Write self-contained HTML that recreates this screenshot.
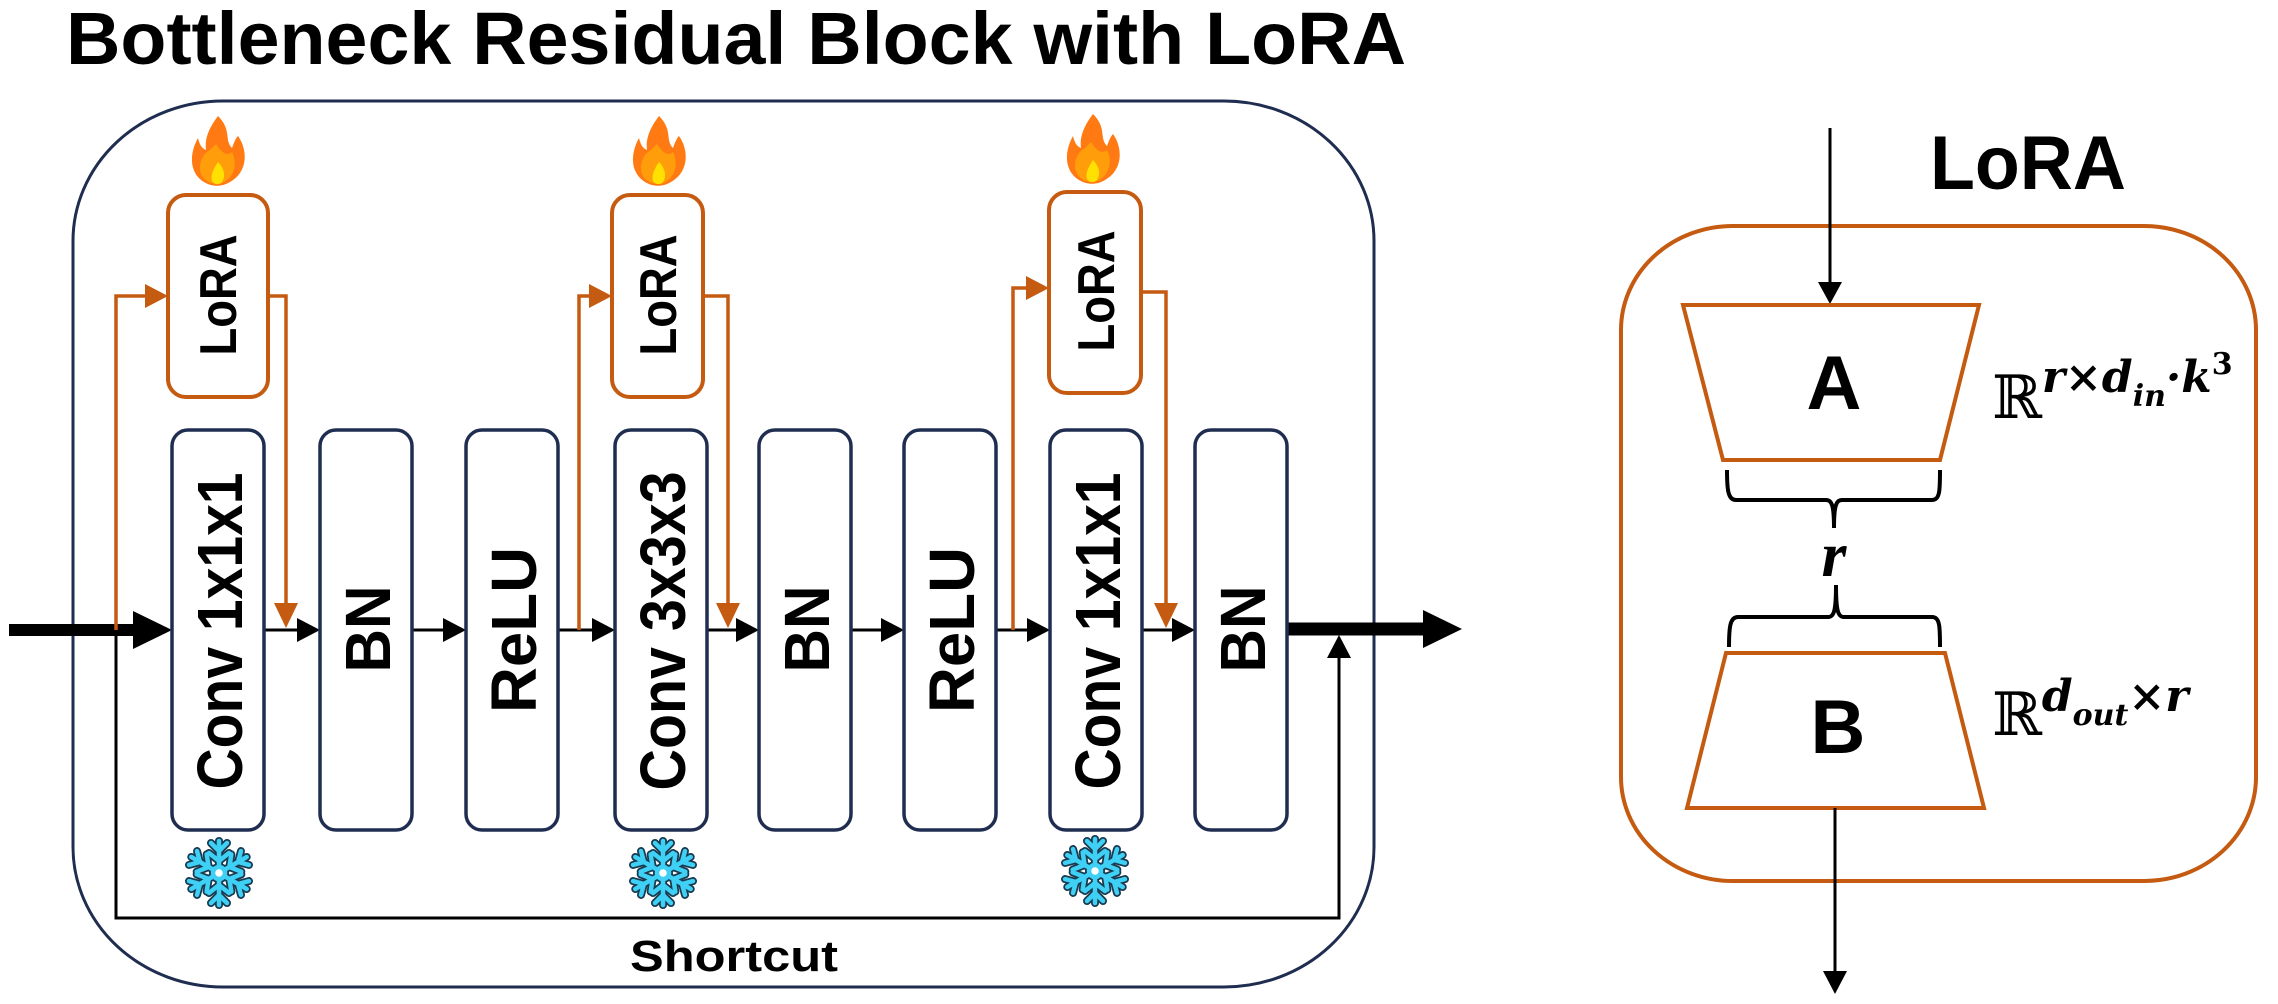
<!DOCTYPE html>
<html><head><meta charset="utf-8"><style>
html,body{margin:0;padding:0;background:#fff;}
svg{display:block;}
</style></head><body>
<svg width="2278" height="1004" viewBox="0 0 2278 1004" xmlns="http://www.w3.org/2000/svg">
<defs>
<g id="flame">
  <path d="M0,-36 C14,-22 6,-12 14,-4 C16,-10 18,-14 20,-16 C30,-2 30,20 12,30 C4,35 -6,35 -14,30 C-30,20 -28,0 -20,-14 C-18,-6 -16,-4 -12,-2 C-14,-16 -6,-28 0,-36 Z" fill="#ff7a12"/>
  <path d="M-2,-8 C4,2 10,4 14,0 C20,12 16,26 4,31 C-6,34 -18,28 -18,16 C-18,6 -12,0 -8,-2 C-6,-4 -4,-6 -2,-8 Z" fill="#ff9d0a"/>
  <path d="M0,10 C6,16 8,24 4,30 C2,33 -4,33 -6,29 C-8,23 -4,16 0,10 Z" fill="#ffe000"/>
</g>
<g id="snowarm">
  <line x1="0" y1="-6" x2="0" y2="-32"/>
  <polyline points="-8,-30 0,-22 8,-30" fill="none"/>
  <polyline points="-10,-20 0,-12 10,-20" fill="none" />
</g>
<g id="snow">
  <g stroke="#1a3a50" stroke-width="8" stroke-linecap="round" stroke-linejoin="round" fill="none">
    <use href="#snowarm"/><use href="#snowarm" transform="rotate(60)"/><use href="#snowarm" transform="rotate(120)"/>
    <use href="#snowarm" transform="rotate(180)"/><use href="#snowarm" transform="rotate(240)"/><use href="#snowarm" transform="rotate(300)"/>
    <circle r="6"/>
  </g>
  <g stroke="#3fd0f5" stroke-width="4.5" stroke-linecap="round" stroke-linejoin="round" fill="none">
    <use href="#snowarm"/><use href="#snowarm" transform="rotate(60)"/><use href="#snowarm" transform="rotate(120)"/>
    <use href="#snowarm" transform="rotate(180)"/><use href="#snowarm" transform="rotate(240)"/><use href="#snowarm" transform="rotate(300)"/>
    <circle r="6" fill="#fff"/>
  </g>
</g>
</defs>

<text x="66" y="64" font-family="Liberation Sans, sans-serif" font-weight="bold" font-size="74" textLength="1340" lengthAdjust="spacingAndGlyphs">Bottleneck Residual Block with LoRA</text>

<rect x="73" y="101" width="1301" height="886" rx="150" ry="140" fill="none" stroke="#1f2d50" stroke-width="3"/>

<polyline points="116,630 116,918 1339,918 1339,656" fill="none" stroke="#000" stroke-width="3"/>
<polygon points="1339,635 1327,658 1351,658" fill="#000"/>
<text x="734" y="971" text-anchor="middle" font-family="Liberation Sans, sans-serif" font-weight="bold" font-size="44" textLength="208" lengthAdjust="spacingAndGlyphs">Shortcut</text>

<line x1="9" y1="630" x2="140" y2="630" stroke="#000" stroke-width="12"/>
<polygon points="133,611 172,630 133,649" fill="#000"/>
<line x1="1287" y1="629" x2="1430" y2="629" stroke="#000" stroke-width="13"/>
<polygon points="1423,610 1462,629 1423,648" fill="#000"/>

<g stroke="#000" stroke-width="3">
  <line x1="264" y1="630" x2="300" y2="630"/>
  <line x1="412" y1="630" x2="446" y2="630"/>
  <line x1="558" y1="630" x2="595" y2="630"/>
  <line x1="707" y1="630" x2="739" y2="630"/>
  <line x1="851" y1="630" x2="884" y2="630"/>
  <line x1="996" y1="630" x2="1030" y2="630"/>
  <line x1="1142" y1="630" x2="1175" y2="630"/>
</g>
<g fill="#000">
  <polygon points="297,618 320,630 297,642"/>
  <polygon points="443,618 466,630 443,642"/>
  <polygon points="592,618 615,630 592,642"/>
  <polygon points="736,618 759,630 736,642"/>
  <polygon points="881,618 904,630 881,642"/>
  <polygon points="1027,618 1050,630 1027,642"/>
  <polygon points="1172,618 1195,630 1172,642"/>
</g>

<g fill="#fff" stroke="#1f2d50" stroke-width="3.5">
  <rect x="172" y="430" width="92" height="400" rx="16"/>
  <rect x="320" y="430" width="92" height="400" rx="16"/>
  <rect x="466" y="430" width="92" height="400" rx="16"/>
  <rect x="615" y="430" width="92" height="400" rx="16"/>
  <rect x="759" y="430" width="92" height="400" rx="16"/>
  <rect x="904" y="430" width="92" height="400" rx="16"/>
  <rect x="1050" y="430" width="92" height="400" rx="16"/>
  <rect x="1195" y="430" width="92" height="400" rx="16"/>
</g>
<g font-family="Liberation Sans, sans-serif" font-weight="bold" font-size="64" text-anchor="middle">
  <text transform="translate(242,631) rotate(-90)" textLength="317" lengthAdjust="spacingAndGlyphs">Conv 1x1x1</text>
  <text transform="translate(390,629) rotate(-90)" textLength="87" lengthAdjust="spacingAndGlyphs">BN</text>
  <text transform="translate(536,630) rotate(-90)" textLength="166" lengthAdjust="spacingAndGlyphs">ReLU</text>
  <text transform="translate(685,631) rotate(-90)" textLength="319" lengthAdjust="spacingAndGlyphs">Conv 3x3x3</text>
  <text transform="translate(829,629) rotate(-90)" textLength="87" lengthAdjust="spacingAndGlyphs">BN</text>
  <text transform="translate(974,630) rotate(-90)" textLength="166" lengthAdjust="spacingAndGlyphs">ReLU</text>
  <text transform="translate(1120,631) rotate(-90)" textLength="317" lengthAdjust="spacingAndGlyphs">Conv 1x1x1</text>
  <text transform="translate(1265,629) rotate(-90)" textLength="87" lengthAdjust="spacingAndGlyphs">BN</text>
</g>

<g fill="#fff" stroke="#c55a11" stroke-width="4">
  <rect x="168" y="195" width="100" height="202" rx="18"/>
  <rect x="612" y="195" width="91" height="202" rx="18"/>
  <rect x="1049" y="192" width="92" height="201" rx="18"/>
</g>
<g font-family="Liberation Sans, sans-serif" font-weight="bold" font-size="52" text-anchor="middle">
  <text transform="translate(236,295) rotate(-90)" textLength="121" lengthAdjust="spacingAndGlyphs">LoRA</text>
  <text transform="translate(676,295) rotate(-90)" textLength="121" lengthAdjust="spacingAndGlyphs">LoRA</text>
  <text transform="translate(1114,291) rotate(-90)" textLength="121" lengthAdjust="spacingAndGlyphs">LoRA</text>
</g>

<g fill="none" stroke="#c55a11" stroke-width="3.5">
  <polyline points="116,630 116,296 148,296"/>
  <polyline points="268,296 286,296 286,606"/>
  <polyline points="579,630 579,296 590,296"/>
  <polyline points="703,296 728,296 728,606"/>
  <polyline points="1013,630 1013,288 1028,288"/>
  <polyline points="1141,292 1166,292 1166,606"/>
</g>
<g fill="#c55a11">
  <polygon points="145,284 168,296 145,308"/>
  <polygon points="274,603 298,603 286,628"/>
  <polygon points="589,284 612,296 589,308"/>
  <polygon points="716,603 740,603 728,628"/>
  <polygon points="1026,276 1049,288 1026,300"/>
  <polygon points="1154,603 1178,603 1166,628"/>
</g>

<use href="#flame" transform="translate(218,152)"/>
<use href="#flame" transform="translate(659,152)"/>
<use href="#flame" transform="translate(1093,150)"/>

<use href="#snow" transform="translate(219,873)"/>
<use href="#snow" transform="translate(663,873)"/>
<use href="#snow" transform="translate(1095,871)"/>

<text x="1930" y="189" font-family="Liberation Sans, sans-serif" font-weight="bold" font-size="76" textLength="196" lengthAdjust="spacingAndGlyphs">LoRA</text>
<rect x="1621" y="226" width="635" height="655" rx="112" ry="104" fill="none" stroke="#c55a11" stroke-width="4"/>

<line x1="1830" y1="128" x2="1830" y2="286" stroke="#000" stroke-width="3"/>
<polygon points="1818,282 1842,282 1830,304" fill="#000"/>

<polygon points="1683,305 1979,305 1940,460 1723,460" fill="#fff" stroke="#c55a11" stroke-width="4"/>
<text x="1834" y="409" text-anchor="middle" font-family="Liberation Sans, sans-serif" font-weight="bold" font-size="76">A</text>

<path d="M1727,470 C1727,490 1728,500 1736,500 L1826,500 C1832,500 1834,506 1834,528 C1834,506 1836,500 1842,500 L1932,500 C1940,500 1940,490 1940,470" fill="none" stroke="#000" stroke-width="4"/>
<text x="1834" y="576" text-anchor="middle" font-family="Liberation Serif, DejaVu Serif, serif" font-weight="bold" font-style="italic" font-size="64">r</text>
<path d="M1729,647 C1729,627 1730,617 1738,617 L1828,617 C1834,617 1836,611 1836,585 C1836,611 1838,617 1844,617 L1932,617 C1940,617 1940,627 1940,647" fill="none" stroke="#000" stroke-width="4"/>

<polygon points="1726,653 1945,653 1984,808 1687,808" fill="#fff" stroke="#c55a11" stroke-width="4"/>
<text x="1838" y="753" text-anchor="middle" font-family="Liberation Sans, sans-serif" font-weight="bold" font-size="76">B</text>

<line x1="1835" y1="808" x2="1835" y2="975" stroke="#000" stroke-width="3"/>
<polygon points="1823,971 1847,971 1835,994" fill="#000"/>

<g font-family="DejaVu Serif, Liberation Serif, serif">
  <text x="1992" y="418"><tspan font-size="60">ℝ</tspan><tspan dy="-26" font-size="44" font-weight="bold" font-style="italic">r×d</tspan><tspan dy="14" font-size="30" font-weight="bold" font-style="italic">in</tspan><tspan dy="-14" font-size="44" font-weight="bold" font-style="italic">·k</tspan><tspan dy="-18" font-size="30" font-weight="bold">3</tspan></text>
  <text x="1992" y="735"><tspan font-size="60">ℝ</tspan><tspan dy="-24" font-size="44" font-weight="bold" font-style="italic">d</tspan><tspan dy="14" font-size="30" font-weight="bold" font-style="italic">out</tspan><tspan dy="-14" font-size="44" font-weight="bold" font-style="italic">×r</tspan></text>
</g>
</svg>
</body></html>
